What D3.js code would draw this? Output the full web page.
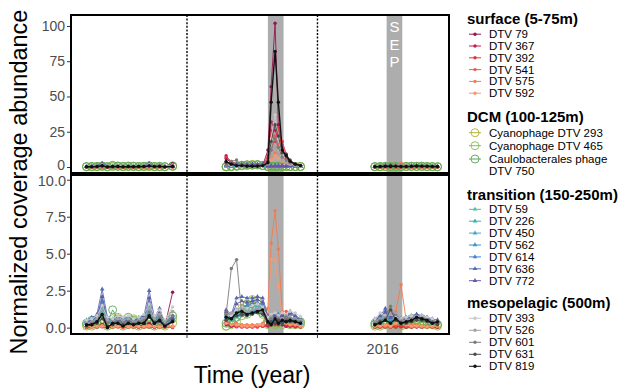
<!DOCTYPE html>
<html>
<head>
<meta charset="utf-8">
<script src="https://cdn.jsdelivr.net/npm/d3@7"></script>
<style>
  body { margin: 0; background: #fff; }
  svg { display: block; font-family: "Liberation Sans", Arial, Helvetica, sans-serif; }
</style>
</head>
<body>
<svg id="chart" width="621" height="389"></svg>
<script>
// sampling dates (fractional year)
const t2014 = [2014.23, 2014.27, 2014.31, 2014.35, 2014.39, 2014.43, 2014.47, 2014.51, 2014.55, 2014.59, 2014.63, 2014.67, 2014.71, 2014.75, 2014.79, 2014.83, 2014.89];
const t2015 = [2015.30, 2015.34, 2015.38, 2015.42, 2015.46, 2015.50, 2015.54, 2015.58, 2015.62, 2015.645, 2015.675, 2015.70, 2015.73, 2015.76, 2015.79, 2015.83, 2015.87];
const t2016 = [2016.44, 2016.48, 2016.52, 2016.56, 2016.60, 2016.64, 2016.68, 2016.72, 2016.76, 2016.80, 2016.84, 2016.88, 2016.92];
const yearLabels = ["2014", "2015", "2016"];
const yearBreaks = [2015, 2016];
const sepBands = [[2015.62, 2015.74], [2016.53, 2016.65]];

const surfaceNames = ["DTV 79", "DTV 367", "DTV 392", "DTV 541", "DTV 575", "DTV 592"];
const dcmNames = ["Cyanophage DTV 293", "Cyanophage DTV 465", "Caulobacterales phage\nDTV 750"];
const transNames = ["DTV 59", "DTV 226", "DTV 450", "DTV 562", "DTV 614", "DTV 636", "DTV 772"];
const mesoNames = ["DTV 393", "DTV 526", "DTV 601", "DTV 631", "DTV 819"];

// lower (zoomed) panel values
const surface2014 = [
  [0.1, 0.1, 0.1, 0.2, 0.1, 0.1, 0.1, 0.1, 0.1, 0.1, 0.1, 0.2, 0.3, 0.1, 0.8, 0.1, 2.4],
  [0.05, 0.1, 0.05, 0.1, 0.05, 0.05, 0.1, 0.05, 0.05, 0.1, 0.05, 0.05, 0.1, 0.05, 0.1, 0.05, 0.1],
  [0.0, 0.05, 0.1, 0.05, 0.0, 0.05, 0.05, 0.0, 0.05, 0.05, 0.0, 0.05, 0.05, 0.0, 0.05, 0.05, 0.0],
  [0.1, 0.05, 0.05, 0.1, 0.05, 0.1, 0.05, 0.05, 0.1, 0.05, 0.05, 0.1, 0.05, 0.1, 0.05, 0.05, 0.1],
  [0.05, 0.1, 0.1, 0.15, 0.05, 0.1, 0.1, 0.05, 0.1, 0.1, 0.05, 0.1, 0.15, 0.05, 0.1, 0.1, 0.05],
  [0.1, 0.05, 0.1, 0.1, 0.1, 0.05, 0.1, 0.1, 0.05, 0.1, 0.1, 0.05, 0.1, 0.1, 0.05, 0.1, 0.1]
];
const surface2015 = [
  [0.3, 0.1, 0.1, 0.1, 0.1, 0.1, 0.1, 0.1, 0.2, 0.3, 0.4, 0.3, 0.2, 0.1, 0.1, 0.1, 0.1],
  [0.2, 0.1, 0.05, 0.05, 0.05, 0.05, 0.05, 0.1, 0.1, 0.2, 0.3, 0.2, 0.3, 0.1, 0.1, 0.05, 0.05],
  [0.5, 0.2, 0.1, 0.05, 0.05, 0.05, 0.05, 0.1, 0.2, 0.3, 0.2, 0.4, 0.3, 0.2, 0.1, 0.1, 0.05],
  [0.4, 0.2, 0.1, 0.1, 0.05, 0.05, 0.1, 0.1, 0.3, 0.5, 0.6, 0.5, 0.4, 1.1, 0.3, 0.2, 0.1],
  [1.0, 0.5, 0.3, 0.2, 0.2, 0.2, 0.2, 0.3, 1.3, 5.7, 7.9, 5.3, 1.1, 0.4, 0.3, 0.3, 0.2],
  [0.3, 0.2, 0.2, 0.1, 0.1, 0.1, 0.2, 0.2, 0.6, 4.6, 4.6, 2.8, 0.8, 0.3, 0.2, 0.2, 0.1]
];
const surface2016 = [
  [0.05, 0.05, 0.1, 0.05, 0.05, 0.1, 0.05, 0.05, 0.05, 0.1, 0.05, 0.05, 0.05],
  [0.05, 0.1, 0.05, 0.05, 0.1, 0.05, 0.05, 0.1, 0.05, 0.05, 0.1, 0.05, 0.05],
  [0.1, 0.05, 0.05, 0.1, 0.05, 0.1, 0.05, 0.05, 0.1, 0.05, 0.05, 0.1, 0.05],
  [0.05, 0.1, 0.1, 0.05, 0.2, 0.3, 0.1, 0.05, 0.1, 0.05, 0.1, 0.05, 0.1],
  [0.1, 0.2, 0.1, 0.3, 1.1, 2.9, 0.5, 0.2, 0.2, 0.1, 0.1, 0.1, 0.1],
  [0.1, 0.1, 0.2, 0.1, 0.3, 0.6, 0.2, 0.1, 0.1, 0.1, 0.05, 0.1, 0.1]
];
const dcm2014 = [
  [0.1, 0.2, 0.3, 0.6, 0.2, 0.6, 0.7, 0.3, 0.4, 0.6, 0.3, 0.2, 0.5, 0.3, 0.2, 0.1, 0.6],
  [0.2, 0.1, 0.2, 0.3, 0.1, 0.2, 0.3, 0.1, 0.2, 0.2, 0.1, 0.3, 0.2, 0.1, 0.2, 0.2, 0.3],
  [0.3, 0.5, 0.4, 0.8, 0.3, 1.2, 0.6, 0.5, 0.7, 0.5, 0.4, 0.6, 0.9, 0.4, 0.5, 0.3, 0.8]
];
const dcm2015 = [
  [0.1, 0.5, 1.0, 1.3, 1.5, 1.9, 1.6, 1.2, 0.3, 0.4, 0.3, 0.5, 0.6, 0.4, 0.3, 0.4, 0.3],
  [0.1, 0.2, 0.4, 0.8, 0.9, 1.2, 1.3, 0.9, 0.2, 0.3, 0.2, 0.3, 0.2, 0.3, 0.2, 0.2, 0.2],
  [0.3, 0.4, 0.7, 1.1, 1.6, 1.4, 1.8, 1.0, 0.4, 0.5, 0.4, 0.6, 0.4, 0.5, 0.4, 0.3, 0.4]
];
const dcm2016 = [
  [0.1, 0.2, 0.3, 0.2, 0.3, 0.2, 0.3, 0.4, 0.3, 0.4, 0.3, 0.2, 0.1],
  [0.2, 0.1, 0.2, 0.3, 0.2, 0.1, 0.2, 0.2, 0.3, 0.2, 0.2, 0.3, 0.2],
  [0.3, 0.4, 0.5, 0.3, 0.4, 0.3, 0.5, 0.6, 0.5, 0.6, 0.4, 0.3, 0.2]
];
const trans2014 = [
  [0.3, 0.4, 0.5, 1.0, 0.4, 0.3, 0.4, 0.3, 0.4, 0.3, 0.4, 0.5, 0.9, 0.4, 0.6, 0.2, 0.5],
  [0.4, 0.5, 0.6, 1.3, 0.5, 0.4, 0.5, 0.4, 0.5, 0.4, 0.5, 0.6, 1.2, 0.5, 0.8, 0.3, 0.6],
  [0.5, 0.6, 0.7, 1.6, 0.6, 0.5, 0.6, 0.5, 0.6, 0.5, 0.6, 0.7, 1.4, 0.6, 0.9, 0.3, 0.7],
  [0.3, 0.4, 0.5, 1.2, 0.4, 0.3, 0.5, 0.4, 0.5, 0.3, 0.4, 0.5, 1.1, 0.4, 0.7, 0.2, 0.5],
  [0.5, 0.7, 0.8, 1.8, 0.6, 0.6, 0.7, 0.6, 0.7, 0.6, 0.7, 0.8, 1.7, 0.6, 1.0, 0.4, 0.8],
  [0.4, 0.6, 0.9, 2.6, 0.7, 0.5, 0.6, 0.5, 0.6, 0.5, 0.6, 0.8, 2.5, 0.7, 1.3, 0.3, 0.7],
  [0.3, 0.5, 0.7, 2.1, 0.5, 0.4, 0.5, 0.4, 0.5, 0.4, 0.5, 0.6, 2.0, 0.5, 1.1, 0.3, 0.6]
];
const trans2015 = [
  [0.6, 0.5, 0.7, 0.8, 0.9, 1.0, 1.1, 1.0, 0.4, 0.5, 0.4, 0.6, 0.3, 0.5, 0.4, 0.5, 0.3],
  [0.8, 0.6, 0.9, 1.0, 1.1, 1.2, 1.3, 1.2, 0.5, 0.6, 0.5, 0.7, 0.4, 0.6, 0.5, 0.6, 0.4],
  [0.9, 0.7, 1.0, 1.2, 1.3, 1.4, 1.5, 1.3, 0.6, 0.7, 0.6, 0.8, 0.5, 0.7, 0.6, 0.7, 0.5],
  [0.7, 0.6, 0.8, 0.9, 1.0, 1.1, 1.2, 1.1, 0.5, 0.5, 0.4, 0.6, 0.4, 0.6, 0.5, 0.5, 0.3],
  [1.0, 0.8, 1.2, 1.4, 1.5, 1.6, 1.7, 1.5, 0.7, 0.8, 0.7, 0.9, 0.6, 0.8, 0.9, 0.8, 0.5],
  [1.2, 0.9, 2.0, 2.1, 2.0, 2.0, 2.1, 2.0, 0.8, 0.7, 0.9, 0.6, 0.9, 0.7, 1.1, 0.8, 0.6],
  [1.1, 0.8, 1.6, 1.8, 1.7, 1.8, 1.9, 1.7, 0.7, 0.6, 0.8, 0.5, 0.8, 0.6, 1.0, 0.7, 0.5]
];
const trans2016 = [
  [0.3, 0.4, 0.6, 0.4, 0.5, 0.3, 0.4, 0.5, 0.6, 0.5, 0.4, 0.3, 0.3],
  [0.4, 0.5, 0.8, 0.5, 0.6, 0.4, 0.5, 0.6, 0.7, 0.6, 0.5, 0.4, 0.3],
  [0.5, 0.6, 0.9, 0.6, 0.7, 0.5, 0.6, 0.7, 0.8, 0.7, 0.6, 0.5, 0.4],
  [0.3, 0.4, 0.7, 0.5, 0.5, 0.4, 0.5, 0.5, 0.6, 0.6, 0.5, 0.4, 0.3],
  [0.5, 0.7, 1.0, 0.7, 0.8, 0.6, 0.6, 0.8, 0.9, 0.8, 0.7, 0.5, 0.5],
  [0.6, 0.8, 1.3, 0.8, 0.9, 0.6, 0.7, 0.8, 0.9, 0.8, 0.7, 0.6, 0.5],
  [0.5, 0.7, 1.1, 0.7, 0.8, 0.5, 0.6, 0.7, 0.8, 0.7, 0.6, 0.5, 0.4]
];
const meso2014 = [
  [0.5, 0.6, 0.8, 1.5, 0.7, 0.6, 0.8, 0.7, 0.8, 0.6, 0.7, 0.9, 1.6, 0.8, 1.2, 0.5, 1.4],
  [0.3, 0.4, 0.6, 1.2, 0.5, 0.4, 0.6, 0.5, 0.6, 0.4, 0.5, 0.6, 1.3, 0.6, 0.9, 0.4, 1.1],
  [0.2, 0.3, 0.4, 0.9, 0.3, 0.3, 0.4, 0.3, 0.4, 0.3, 0.4, 0.5, 1.0, 0.4, 0.7, 0.2, 0.8],
  [0.1, 0.2, 0.3, 0.6, 0.1, 0.2, 0.3, 0.2, 0.3, 0.2, 0.3, 0.3, 0.7, 0.3, 0.4, 0.1, 0.5],
  [0.2, 0.2, 0.4, 0.9, 0.0, 0.3, 0.3, 0.1, 0.3, 0.2, 0.3, 0.3, 0.8, 0.3, 0.5, 0.1, 0.4]
];
const meso2015 = [
  [0.9, 0.8, 1.2, 1.4, 1.3, 1.5, 1.6, 1.4, 0.7, 0.9, 1.0, 0.8, 1.0, 0.9, 1.1, 1.0, 0.75],
  [0.8, 1.0, 1.0, 1.2, 1.1, 1.2, 1.3, 1.2, 0.5, 0.7, 0.6, 0.7, 0.6, 0.8, 0.7, 0.6, 0.5],
  [0.9, 4.0, 4.6, 0.8, 0.9, 1.0, 1.1, 1.0, 0.4, 0.6, 0.5, 0.6, 0.5, 0.7, 0.6, 0.5, 0.4],
  [0.5, 0.6, 0.8, 0.9, 0.8, 0.9, 1.0, 0.9, 0.3, 0.4, 0.3, 0.5, 0.3, 0.4, 0.4, 0.4, 0.3],
  [0.7, 0.6, 1.0, 1.1, 0.9, 1.0, 1.1, 1.2, 0.4, 0.2, 0.6, 0.3, 0.5, 0.4, 0.5, 0.4, 0.3]
];
const meso2016 = [
  [0.6, 1.0, 0.8, 0.9, 0.7, 0.6, 0.7, 0.8, 0.75, 0.8, 0.7, 0.6, 0.4],
  [0.4, 0.6, 0.7, 0.9, 1.0, 0.5, 0.5, 0.6, 0.6, 0.7, 0.5, 0.4, 0.4],
  [0.3, 0.5, 0.6, 1.45, 0.6, 0.4, 0.4, 0.5, 0.6, 0.6, 0.5, 0.4, 0.3],
  [0.2, 0.4, 0.5, 1.2, 0.5, 0.3, 0.3, 0.4, 0.5, 0.5, 0.4, 0.3, 0.2],
  [0.2, 0.3, 0.5, 0.3, 0.6, 0.3, 0.4, 0.5, 0.7, 0.6, 0.5, 0.3, 0.4]
];

// upper (full range) panel: 2015 bloom values
const topSurface2015 = [
  [6, 3, 1, 0.5, 0.5, 0.5, 0.5, 1, 12, 57, 102, 30, 14, 6, 3, 1, 0.5],
  [8, 3, 1, 0.5, 0.5, 0.5, 0.5, 1, 6, 32, 26, 20, 18, 9, 4, 2, 1],
  [7, 4, 2, 1, 0.5, 0.5, 0.5, 1, 8, 26, 18, 28, 12, 6, 3, 1, 0.5],
  [3, 2, 1, 0.5, 0.5, 0.5, 0.5, 1, 4, 12, 22, 16, 18, 8, 3, 1, 0.5],
  [1, 1, 0.5, 0.5, 0.5, 0.5, 0.5, 1, 3, 6, 10, 14, 8, 4, 2, 1, 0.5],
  [0.5, 0.5, 0.5, 0.5, 0.5, 0.5, 0.5, 1, 2, 5, 8, 6, 4, 2, 1, 0.5, 0.5]
];
const topMeso2015 = [
  [2, 1, 1, 0.5, 0.5, 0.5, 0.5, 1, 4, 20, 37, 20, 8, 4, 2, 1, 0.5],
  [1, 2, 1, 1, 1, 1, 1, 1, 2, 8, 14, 9, 5, 3, 2, 1, 1],
  [1, 4, 5, 1, 1, 1, 1, 1, 3, 12, 20, 14, 7, 5, 3, 2, 1],
  [3, 2, 1, 1, 1, 1, 1, 1, 4, 18, 30, 22, 10, 9, 5, 2, 1],
  [4, 2, 1, 1, 0.5, 0.5, 0.5, 1, 3, 46, 82, 46, 12, 8, 4, 2, 1]
];

const surfaceColors = ["#931650", "#c51d52", "#e23343", "#ee5b55", "#f47a50", "#f79a6c"];
const dcmColors = ["#b0b436", "#86bf4f", "#5ea65e"];
const transColors = ["#4fbea3", "#35b2b4", "#40a7cf", "#3a92c8", "#4b80c2", "#5569b0", "#6559a5"];
const mesoColors = ["#c9c9c9", "#a3a3a3", "#7c7c7c", "#4b4b4b", "#111111"];

const tYears = [t2014, t2015, t2016];
const groups = [
  { title: "surface (5-75m)", names: surfaceNames, colors: surfaceColors, shape: "dot", low: [surface2014, surface2015, surface2016], top2015: topSurface2015 },
  { title: "DCM (100-125m)", names: dcmNames, colors: dcmColors, shape: "ring", low: [dcm2014, dcm2015, dcm2016] },
  { title: "transition (150-250m)", names: transNames, colors: transColors, shape: "tri", low: [trans2014, trans2015, trans2016] },
  { title: "mesopelagic (500m)", names: mesoNames, colors: mesoColors, shape: "dot", low: [meso2014, meso2015, meso2016], top2015: topMeso2015 }
];

const svg = d3.select("#chart");
const left = 71, right = 449;
const x = d3.scaleLinear().domain([2014.111, 2017.008]).range([left, right]);

const panels = [
  { top: 15, bottom: 173, domain: [-4.26, 107.8], ticks: [0, 25, 50, 75, 100], fmt: d3.format("d"), size: 14, isTop: true },
  { top: 175, bottom: 334, domain: [-0.43, 10.32], ticks: [0, 2.5, 5, 7.5, 10], fmt: d3.format(".1f"), size: 14.5, isTop: false }
];

// draw order: DCM underneath, black mesopelagic on top
const drawOrder = [1, 0, 2, 3];

panels.forEach((p, pi) => {
  const y = d3.scaleLinear().domain(p.domain).range([p.bottom, p.top]);

  svg.append("clipPath").attr("id", "clip" + pi)
    .append("rect")
    .attr("x", left).attr("y", p.top)
    .attr("width", right - left).attr("height", p.bottom - p.top);

  const body = svg.append("g").attr("clip-path", `url(#clip${pi})`);

  // September bands
  body.selectAll("rect.sep").data(sepBands).join("rect")
    .attr("class", "sep")
    .attr("x", d => x(d[0]))
    .attr("width", d => x(d[1]) - x(d[0]))
    .attr("y", p.top)
    .attr("height", p.bottom - p.top)
    .attr("fill", "#adadad");

  // year separators
  body.selectAll("line.yr").data(yearBreaks).join("line")
    .attr("x1", d => x(d)).attr("x2", d => x(d))
    .attr("y1", p.top).attr("y2", p.bottom)
    .attr("stroke", "#000").attr("stroke-width", 1.4)
    .attr("stroke-dasharray", "2,1.6");

  const line = d3.line().x(d => x(d.t)).y(d => y(d.v));

  drawOrder.forEach(gi => {
    const grp = groups[gi];
    grp.names.forEach((name, si) => {
      const color = grp.colors[si];
      const black = color === "#111111";
      tYears.forEach((ts, yi) => {
        let vals = grp.low[yi][si];
        if (p.isTop && yi === 1 && grp.top2015) vals = grp.top2015[si];
        const pts = ts.map((t, k) => ({ t: t, v: vals[k] }));

        body.append("path")
          .datum(pts)
          .attr("d", line)
          .attr("fill", "none")
          .attr("stroke", color)
          .attr("stroke-width", black ? 1.4 : 0.9);

        if (grp.shape === "ring") {
          body.selectAll(null).data(pts).join("circle")
            .attr("cx", d => x(d.t)).attr("cy", d => y(d.v))
            .attr("r", 4).attr("fill", "none")
            .attr("stroke", color).attr("stroke-width", 0.9);
        } else if (grp.shape === "tri") {
          body.selectAll(null).data(pts).join("path")
            .attr("transform", d => `translate(${x(d.t)},${y(d.v)})`)
            .attr("d", d3.symbol(d3.symbolTriangle, 9))
            .attr("fill", color);
        } else {
          body.selectAll(null).data(pts).join("circle")
            .attr("cx", d => x(d.t)).attr("cy", d => y(d.v))
            .attr("r", 1.7).attr("fill", color);
        }
      });
    });
  });

  if (p.isTop) {
    const sx = x((sepBands[1][0] + sepBands[1][1]) / 2);
    svg.append("text")
      .attr("x", sx).attr("y", 32)
      .attr("text-anchor", "middle")
      .attr("fill", "#fff")
      .style("font-size", "15px")
      .selectAll("tspan").data(["S", "E", "P"]).join("tspan")
      .attr("x", sx).attr("dy", (d, i) => i === 0 ? 0 : 17.5)
      .text(d => d);
  }

  // panel border
  svg.append("rect")
    .attr("x", left).attr("y", p.top)
    .attr("width", right - left).attr("height", p.bottom - p.top)
    .attr("fill", "none").attr("stroke", "#000").attr("stroke-width", 2);

  // y axis
  svg.append("g")
    .attr("transform", `translate(${left - 1},0)`)
    .call(d3.axisLeft(y).tickValues(p.ticks).tickSize(3).tickPadding(p.isTop ? 2 : 1).tickFormat(p.fmt))
    .call(g => g.select(".domain").remove())
    .call(g => g.selectAll("line").attr("stroke", "#333"))
    .call(g => g.selectAll("text").attr("fill", "#4d4d4d").style("font-size", p.size + "px")
      .style("font-family", "'Liberation Sans', Arial, sans-serif")
      .attr("dy", d => (p.isTop && d === 0) ? "0.2em" : (!p.isTop && d === 10) ? "0.42em" : "0.32em"));
});

// x axis
const xb = panels[1].bottom;
svg.append("g").selectAll("line").data(yearBreaks).join("line")
  .attr("x1", d => x(d)).attr("x2", d => x(d))
  .attr("y1", xb).attr("y2", xb + 4)
  .attr("stroke", "#333").attr("stroke-width", 1);
svg.append("g").selectAll("text").data(yearLabels).join("text")
  .attr("x", d => x(+d + 0.5))
  .attr("y", 354)
  .attr("text-anchor", "middle")
  .attr("fill", "#4d4d4d")
  .style("font-size", "14.5px")
  .text(d => d);

svg.append("text")
  .attr("x", 252).attr("y", 383)
  .attr("text-anchor", "middle")
  .style("font-size", "23px")
  .text("Time (year)");

svg.append("text")
  .attr("transform", "translate(27,182) rotate(-90)")
  .attr("text-anchor", "middle")
  .style("font-size", "23.5px")
  .text("Normalized coverage abundance");

// legend
const legendLayout = [
  { titleY: 24, items: [34.2, 46, 57.8, 69.6, 81.4, 93.2] },
  { titleY: 122, items: [132.7, 145.7, 159] },
  { titleY: 199.5, items: [209.3, 221.2, 233.1, 245, 256.9, 268.8, 280.7] },
  { titleY: 308, items: [318.3, 330.3, 342.3, 354.3, 366.3] }
];
const lg = svg.append("g");
groups.forEach((grp, gi) => {
  const L = legendLayout[gi];
  lg.append("text")
    .attr("x", 467).attr("y", L.titleY)
    .style("font-size", "15px").style("font-weight", "bold")
    .text(grp.title);
  grp.names.forEach((name, si) => {
    const cy = L.items[si];
    const color = grp.colors[si];
    lg.append("line")
      .attr("x1", 469).attr("x2", 481).attr("y1", cy).attr("y2", cy)
      .attr("stroke", color).attr("stroke-width", 1);
    if (grp.shape === "ring") {
      lg.append("circle").attr("cx", 475).attr("cy", cy).attr("r", 4)
        .attr("fill", "none").attr("stroke", color).attr("stroke-width", 0.9);
    } else if (grp.shape === "tri") {
      lg.append("path").attr("transform", `translate(475,${cy})`)
        .attr("d", d3.symbol(d3.symbolTriangle, 9)).attr("fill", color);
    } else {
      lg.append("circle").attr("cx", 475).attr("cy", cy).attr("r", 1.7).attr("fill", color);
    }
    const lines = name.split("\n");
    const tx = lg.append("text").attr("x", 489).attr("y", cy + 4).style("font-size", "11.5px");
    tx.selectAll("tspan").data(lines).join("tspan")
      .attr("x", 489).attr("dy", (d, i) => i === 0 ? 0 : 12)
      .text(d => d);
  });
});
</script>
</body>
</html>
